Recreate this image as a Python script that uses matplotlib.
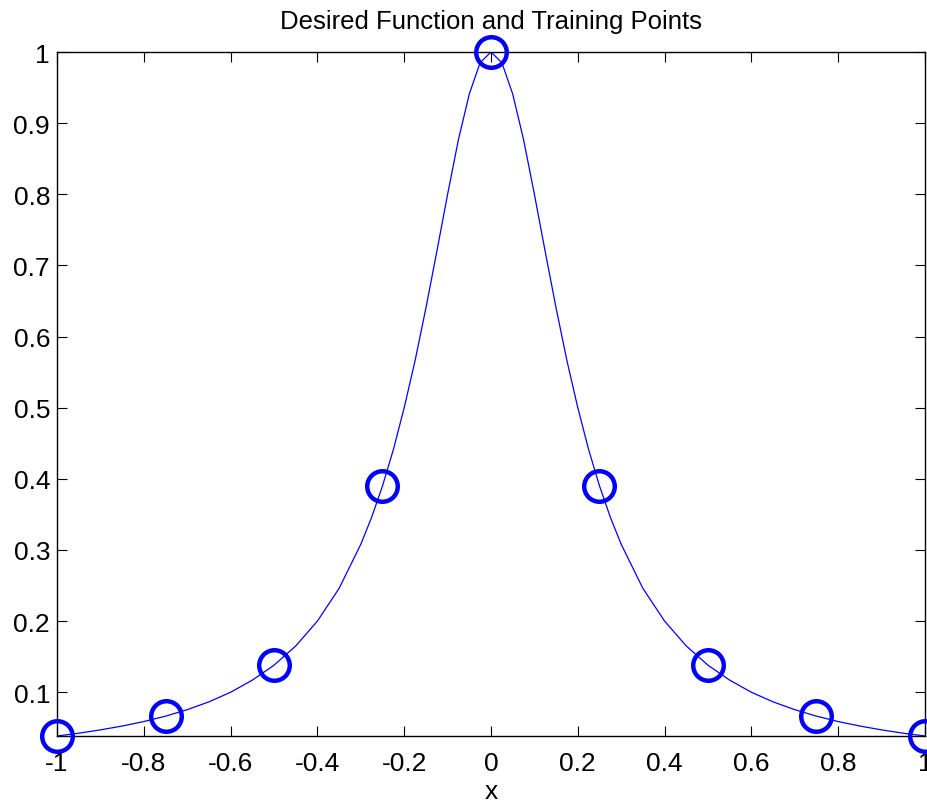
import matplotlib
matplotlib.use("Agg")
import matplotlib.pyplot as plt

plt.rcParams['font.family'] = ['Liberation Sans', 'DejaVu Sans']

# dense curve
curve_x = [-1.0, -0.95, -0.9, -0.85, -0.8, -0.75, -0.7, -0.65, -0.6, -0.55, -0.5,
           -0.45, -0.4, -0.35, -0.3, -0.275, -0.25, -0.225, -0.2, -0.175, -0.15, -0.125,
           -0.1, -0.075, -0.05, -0.025, 0.0,
           0.025, 0.05, 0.075, 0.1, 0.125, 0.15, 0.175, 0.2, 0.225, 0.25, 0.275, 0.3,
           0.35, 0.4, 0.45, 0.5,
           0.55, 0.6, 0.65, 0.7, 0.75, 0.8, 0.85, 0.9, 0.95, 1.0]
curve_y = [0.0385, 0.0424, 0.0471, 0.0525, 0.0588, 0.0664, 0.0755, 0.0865, 0.100, 0.117, 0.138,
           0.165, 0.200, 0.246, 0.308, 0.346, 0.390, 0.441, 0.500, 0.566, 0.640, 0.719,
           0.800, 0.877, 0.941, 0.985, 1.000,
           0.985, 0.941, 0.877, 0.800, 0.719, 0.640, 0.566, 0.500, 0.441, 0.390, 0.346, 0.308,
           0.246, 0.200, 0.165, 0.138,
           0.117, 0.100, 0.0865, 0.0755, 0.0664, 0.0588, 0.0525, 0.0471, 0.0424, 0.0385]

# training points
train_x = [-1.0, -0.75, -0.5, -0.25, 0.0, 0.25, 0.5, 0.75, 1.0]
train_y = [0.0385, 0.0664, 0.138, 0.390, 1.0, 0.390, 0.138, 0.0664, 0.0385]

xticks = [-1, -0.8, -0.6, -0.4, -0.2, 0, 0.2, 0.4, 0.6, 0.8, 1]
xticklabels = ['-1', '-0.8', '-0.6', '-0.4', '-0.2', '0', '0.2', '0.4', '0.6', '0.8', '1']
yticks = [0.1, 0.2, 0.3, 0.4, 0.5, 0.6, 0.7, 0.8, 0.9, 1.0]
yticklabels = ['0.1', '0.2', '0.3', '0.4', '0.5', '0.6', '0.7', '0.8', '0.9', '1']

W, H = 928, 804
fig = plt.figure(figsize=(W / 100, H / 100), dpi=100)
ax = fig.add_axes([57 / W, 67 / H, 868 / W, 684 / H])

ax.plot(curve_x, curve_y, color=(0, 0, 1), lw=0.9, zorder=2)
ax.plot(train_x, train_y, 'o', ms=22, mfc='none', mec=(0, 0, 1), mew=3.2, zorder=3, clip_on=False)

ax.set_xlim(-1, 1)
ax.set_ylim(0.0385, 1.0)
ax.set_xticks(xticks)
ax.set_xticklabels(xticklabels)
ax.set_yticks(yticks)
ax.set_yticklabels(yticklabels)
ax.tick_params(direction='in', length=7, width=0.8, labelsize=19, top=True, right=True, pad=5)
ax.tick_params(axis='x', pad=11)
for s in ax.spines.values():
    s.set_linewidth(1.0)

axcx = (57 + 868 / 2) / W
fig.text(axcx, 1 - 22 / H, 'Desired Function and Training Points', fontsize=18.5,
         ha='center', va='center')
fig.text(axcx, 1 - 792 / H, 'x', fontsize=19, ha='center', va='center')

fig.savefig('out.png', dpi=100)
